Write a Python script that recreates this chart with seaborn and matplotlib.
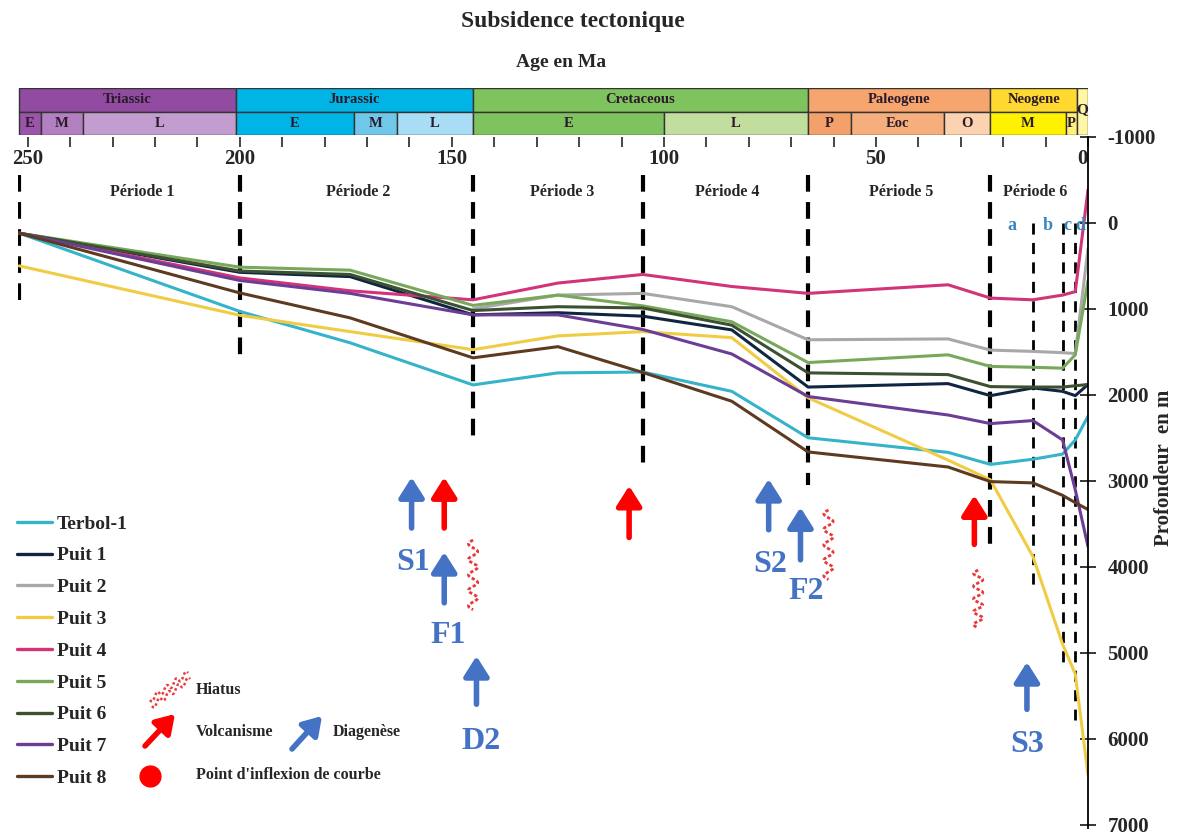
import numpy as np
import pandas as pd
import matplotlib
matplotlib.use("Agg")
import matplotlib.pyplot as plt
from matplotlib.patches import Rectangle
from matplotlib.lines import Line2D
import seaborn as sns

# ages des points de calage (Ma)
ages = [252, 200, 174, 145, 125, 105, 84, 66, 33, 23, 13, 6, 3, 0]

# subsidence tectonique (m) par puits
terbol_1 = [120, 1030, 1395, 1885, 1745, 1735, 1960, 2500, 2670, 2810, 2750, 2690, 2525, 2250]
puit_1 = [120, 575, 625, 1070, 1045, 1085, 1245, 1910, 1870, 2010, 1920, 1960, 2010, 1880]
puit_2 = [np.nan, np.nan, np.nan, 1000, 840, 820, 975, 1360, 1350, 1480, 1495, 1510, 1520, 300]
puit_3 = [500, 1075, 1265, 1475, 1315, 1265, 1335, 2035, 2760, 2990, 3880, 4900, 5250, 6420]
puit_4 = [120, 640, 790, 895, 700, 600, 740, 820, 720, 875, 895, 840, 800, -385]
puit_5 = [120, 515, 550, 960, 840, 965, 1150, 1625, 1535, 1670, 1680, 1690, 1535, 670]
puit_6 = [120, 560, 600, 1020, 975, 990, 1190, 1745, 1765, 1905, 1910, 1910, 1895, 1880]
puit_7 = [120, 670, 820, 1070, 1070, 1240, 1525, 2020, 2235, 2335, 2300, 2525, 3105, 3765]
puit_8 = [120, 815, 1105, 1570, 1440, 1740, 2075, 2665, 2840, 3010, 3025, 3170, 3255, 3335]

well_names = ["Terbol-1", "Puit 1", "Puit 2", "Puit 3", "Puit 4", "Puit 5", "Puit 6", "Puit 7", "Puit 8"]
well_values = [terbol_1, puit_1, puit_2, puit_3, puit_4, puit_5, puit_6, puit_7, puit_8]
well_colors = ["#35b3c9", "#0f2540", "#a8a8a8", "#f0cc45", "#d13479",
               "#79a85c", "#3b5131", "#6b3d95", "#5e3b20"]

# échelle des temps géologiques
periods = ["Triassic", "Jurassic", "Cretaceous", "Paleogene", "Neogene"]
period_bounds = [(252, 201), (201, 145), (145, 66), (66, 23), (23, 2.6)]
period_colors = ["#914ba0", "#00b4e6", "#7fc35f", "#f6a56e", "#ffd930"]
epochs = ["E", "M", "L", "E", "M", "L", "E", "L", "P", "Eoc", "O", "M", "P"]
epoch_bounds = [(252, 247), (247, 237), (237, 201), (201, 173), (173, 163), (163, 145),
                (145, 100), (100, 66), (66, 56), (56, 34), (34, 23), (23, 5.3), (5.3, 2.6)]
epoch_colors = ["#9a55a8", "#b27fc0", "#c39dd0", "#00b4e6", "#6fc7ea", "#a9dcf5",
                "#7fc35f", "#c2de9e", "#f4a06a", "#f6ae7c", "#fbd3b0", "#fff200", "#fff07a"]

# limites des périodes de subsidence
limits = [252, 200, 145, 105, 66, 23]
limits_bottom = [895, 1535, 2520, 2870, 3050, 3770]
sub_limits = [13, 6, 3]
sub_limits_bottom = [4240, 5110, 5780]
period_labels = ["Période 1", "Période 2", "Période 3", "Période 4", "Période 5", "Période 6"]
period_label_x = [223, 172, 124, 85, 44, 12.5]

rows = []
for name, vals in zip(well_names, well_values):
    for a, v in zip(ages, vals):
        rows.append({"age": a, "depth": v, "well": name})
df = pd.DataFrame(rows).dropna()

sns.set_style("white")
plt.rcParams["font.family"] = ["Liberation Serif", "DejaVu Serif"]
plt.rcParams["font.weight"] = "bold"
plt.rcParams["axes.unicode_minus"] = False

fig = plt.figure(figsize=(11.78, 8.35), dpi=100)
ax = fig.add_axes([0.0153, 0.0084, 0.9083, 0.8276])
bar = fig.add_axes([0.0153, 0.8383, 0.9083, 0.0563])

sns.lineplot(data=df, x="age", y="depth", hue="well", hue_order=well_names,
             palette=dict(zip(well_names, well_colors)), linewidth=2.2,
             legend=False, ax=ax)

ax.set_xlim(252.3, 0)
ax.set_ylim(7040, -1000)
for s in ["left", "bottom", "top"]:
    ax.spines[s].set_visible(False)
ax.spines["right"].set_linewidth(1.3)
ax.spines["right"].set_color("black")
ax.yaxis.tick_right()
ax.set_yticks(range(-1000, 7001, 1000))
ax.tick_params(axis="y", direction="inout", length=12, width=1.3, labelsize=15, pad=8, right=True)
ax.xaxis.tick_top()
ax.set_xticks([250, 200, 150, 100, 50, 0])
ax.set_xticks(range(0, 251, 10), minor=True)
ax.tick_params(axis="x", which="both", direction="in", length=7, width=1.2, top=True,
               bottom=False, labeltop=True, labelbottom=False, labelsize=15, pad=-23)
for lab in ax.get_xticklabels():
    if lab.get_text() == "0":
        lab.set_horizontalalignment("right")
ax.set_xlabel("")
ax.set_ylabel("")

# lignes de séparation des périodes
for a, b in zip(limits, limits_bottom):
    ax.plot([a, a], [-560, b], color="black", lw=3, ls=(0, (4, 2.5)), zorder=1)
for a, b in zip(sub_limits, sub_limits_bottom):
    ax.plot([a, a], [0, b], color="black", lw=2, ls=(0, (4, 3)), zorder=1)
for lab, x in zip(period_labels, period_label_x):
    ax.text(x, -360, lab, ha="center", va="center", fontsize=11.5)
for lab, x in zip(["a", "b", "c", "d"], [17.9, 9.4, 4.9, 1.9]):
    ax.text(x, 30, lab, ha="center", va="center", fontsize=13, color="#3a86c0")

# échelle stratigraphique
bar.set_xlim(252.3, 0)
bar.set_ylim(0, 2)
bar.axis("off")
for name, (a, b), c in zip(periods, period_bounds, period_colors):
    bar.add_patch(Rectangle((b, 1), a - b, 1, facecolor=c, edgecolor="#333333", lw=1))
    bar.text((a + b) / 2, 1.5, name, ha="center", va="center", fontsize=10.5, color="#2a1a2a")
for name, (a, b), c in zip(epochs, epoch_bounds, epoch_colors):
    bar.add_patch(Rectangle((b, 0), a - b, 1, facecolor=c, edgecolor="#333333", lw=1))
    bar.text((a + b) / 2, 0.5, name, ha="center", va="center", fontsize=10.5, color="#2a1a2a")
bar.add_patch(Rectangle((0, 0), 2.6, 2, facecolor="#fff6a6", edgecolor="#333333", lw=1))
bar.text(1.3, 1.1, "Q", ha="center", va="center", fontsize=11, color="#2a1a2a")

# événements
blue = "#4472c4"
red = "#ff0000"
arrows = [(159.5, 3550, 2960, blue), (151.8, 3550, 2960, red), (151.8, 4420, 3830, blue),
          (144.2, 5600, 5040, blue), (108.2, 3660, 3060, red), (75.3, 3570, 2980, blue),
          (67.8, 3920, 3310, blue), (26.8, 3740, 3170, red), (14.4, 5660, 5110, blue)]
for x, y0, y1, c in arrows:
    ax.annotate("", xy=(x, y1), xytext=(x, y0),
                arrowprops=dict(arrowstyle="-|>,head_width=0.38,head_length=0.6",
                                lw=4, color=c, mutation_scale=20, shrinkA=0, shrinkB=0))
labels = [("S1", 159.2, 3950), ("F1", 150.8, 4800), ("D2", 143.0, 6035),
          ("S2", 75.0, 3975), ("F2", 66.4, 4290), ("S3", 14.4, 6070)]
for t, x, y in labels:
    ax.text(x, y, t, ha="center", va="center", fontsize=23, color=blue)

t = np.linspace(0, 1, 200)
for x, y0, y1 in [(145, 3690, 4500), (61.2, 3340, 4150), (25.9, 4040, 4710)]:
    ax.plot(x + 1.1 * np.sin(t * 2 * np.pi * 4.5), y0 + (y1 - y0) * t,
            color="#e8393a", lw=2, ls=(0, (1.2, 0.8)))

# légende des puits
handles = [Line2D([], [], color=c, lw=2.4) for c in well_colors]
fig.legend(handles, well_names, loc="upper left", bbox_to_anchor=(0.0144, 0.3832),
           frameon=False, fontsize=14, handlelength=1.8, handletextpad=0.25,
           labelspacing=0.73, borderaxespad=0, borderpad=0)

# légende des symboles
ft = fig.transFigure
tt = np.linspace(0, 1, 60)
hx = (150 + 38 * tt) / 1178
hy = 1 - (700 - 27 * tt + 3 * np.sin(tt * 2 * np.pi * 4)) / 835
fig.add_artist(Line2D(hx, hy, transform=ft, color="#e8393a", lw=1.8, ls=(0, (1, 1))))
fig.add_artist(Line2D(hx + 2 / 1178, hy - 6 / 835, transform=ft, color="#e8393a", lw=1.8, ls=(0, (1, 1))))
ax.annotate("", xy=(175 / 1178, 1 - 714 / 835), xytext=(145 / 1178, 1 - 746 / 835),
            xycoords=ft, textcoords=ft,
            arrowprops=dict(arrowstyle="-|>,head_width=0.38,head_length=0.6",
                            lw=4, color=red, mutation_scale=18, shrinkA=0, shrinkB=0))
ax.annotate("", xy=(322 / 1178, 1 - 716 / 835), xytext=(292 / 1178, 1 - 749 / 835),
            xycoords=ft, textcoords=ft,
            arrowprops=dict(arrowstyle="-|>,head_width=0.38,head_length=0.6",
                            lw=4, color=blue, mutation_scale=18, shrinkA=0, shrinkB=0))
fig.add_artist(Line2D([150 / 1178], [1 - 776 / 835], transform=ft, marker="o",
                      markersize=15, color=red, lw=0))
fig.text(196 / 1178, 1 - 690 / 835, "Hiatus", fontsize=11.5, va="center")
fig.text(196 / 1178, 1 - 732 / 835, "Volcanisme", fontsize=11.5, va="center")
fig.text(333 / 1178, 1 - 732 / 835, "Diagenèse", fontsize=11.5, va="center")
fig.text(196 / 1178, 1 - 775 / 835, "Point d'inflexion de courbe", fontsize=11.5, va="center")

fig.text(0.486, 0.974, "Subsidence tectonique", ha="center", va="center", fontsize=17)
fig.text(0.476, 0.925, "Age en Ma", ha="center", va="center", fontsize=14)
fig.text(0.988, 0.44, "Profondeur  en m", ha="center", va="center", rotation=90, fontsize=15)

fig.savefig("out.png", dpi=100)
